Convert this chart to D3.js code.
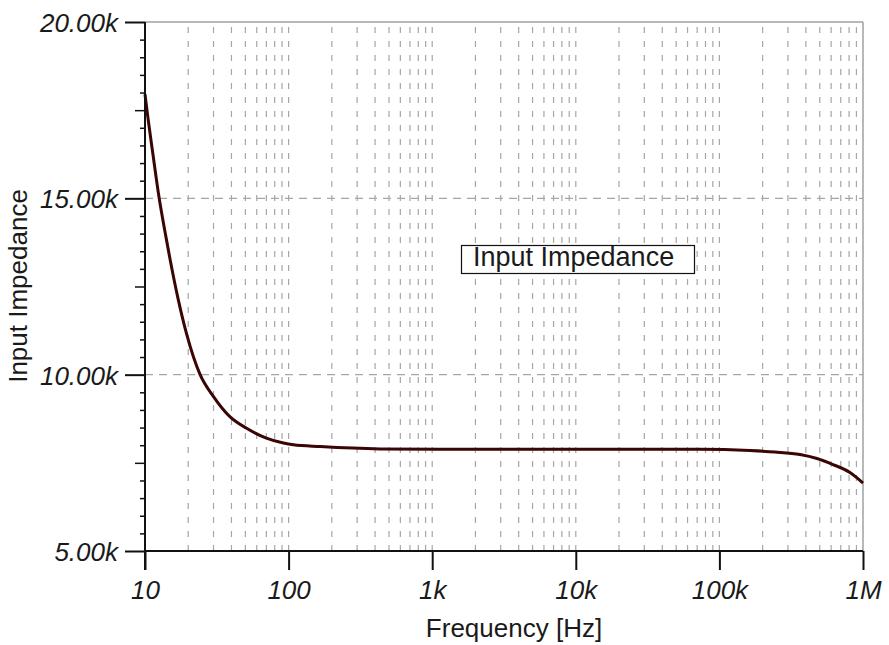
<!DOCTYPE html>
<html>
<head>
<meta charset="utf-8">
<script src="https://cdn.jsdelivr.net/npm/d3@7"></script>
<style>
  html, body { margin: 0; padding: 0; background: #ffffff; }
  svg { display: block; }
  text { font-family: "Liberation Sans", Arial, sans-serif; fill: #1a1a1a; }
</style>
</head>
<body>
<svg id="chart" width="889" height="645"></svg>
<script>
// Input impedance vs. frequency (AC sweep)
const frequencyHz = [10, 10.5, 11.4, 12.5, 14.0, 14.9, 17, 19.5, 24.2, 30, 39, 51, 70, 92, 108, 166, 433, 1130, 10000, 73000, 163000, 244000, 364000, 478000, 618000, 811000, 1000000];
const impedanceOhm = [17950, 17260, 16200, 15050, 13900, 13300, 12150, 11150, 10000, 9380, 8810, 8480, 8200, 8060, 8010, 7960, 7895, 7885, 7885, 7884, 7849, 7807, 7736, 7623, 7452, 7225, 6928];

const xTickValues = [10, 100, 1000, 10000, 100000, 1000000];
const xTickLabels = ["10", "100", "1k", "10k", "100k", "1M"];
const yTickValues = [5000, 10000, 15000, 20000];
const yTickLabels = ["5.00k", "10.00k", "15.00k", "20.00k"];
const seriesName = "Input Impedance";
const xTitle = "Frequency [Hz]";
const yTitle = "Input Impedance";

const svg = d3.select("#chart");
const plot = { left: 145, right: 863, top: 22, bottom: 551 };

const x = d3.scaleLog().domain([10, 1e6]).range([plot.left, plot.right]);
const y = d3.scaleLinear().domain([5000, 20000]).range([plot.bottom, plot.top]);

// vertical grid at every 2..10 step of each decade
const xGrid = [];
for (let d = 10; d < 1e6; d *= 10) {
  for (let k = 2; k <= 10; k++) xGrid.push(d * k);
}
const gridG = svg.append("g");
gridG.selectAll("line.vg")
  .data(xGrid.filter(v => v < 1e6))
  .join("line")
  .attr("x1", d => x(d)).attr("x2", d => x(d))
  .attr("y1", plot.bottom).attr("y2", plot.top)
  .attr("stroke", "#a6a6a6").attr("stroke-width", 1.2)
  .attr("stroke-dasharray", "6,8");

gridG.selectAll("line.hg")
  .data([10000, 15000])
  .join("line")
  .attr("x1", plot.left).attr("x2", plot.right)
  .attr("y1", d => y(d)).attr("y2", d => y(d))
  .attr("stroke", "#a6a6a6").attr("stroke-width", 1.2)
  .attr("stroke-dasharray", "8,6");

// frame: top and right edges
svg.append("line").attr("x1", plot.left).attr("x2", plot.right).attr("y1", plot.top).attr("y2", plot.top)
  .attr("stroke", "#a0a0a0").attr("stroke-width", 1.5);
svg.append("line").attr("x1", plot.right).attr("x2", plot.right).attr("y1", plot.top).attr("y2", plot.bottom)
  .attr("stroke", "#a0a0a0").attr("stroke-width", 1.5);

// curve
const line = d3.line()
  .x((d, i) => x(frequencyHz[i]))
  .y(d => y(d))
  .curve(d3.curveMonotoneX);
svg.append("path")
  .datum(impedanceOhm)
  .attr("d", line)
  .attr("fill", "none")
  .attr("stroke", "#3a0505")
  .attr("stroke-width", 3)
  .attr("stroke-linejoin", "round");

// y axis: minor, medium and major ticks
const minorY = d3.range(5000, 20001, 500).filter(v => v % 2500 !== 0);
const mediumY = [7500, 12500, 17500];
svg.append("g").attr("transform", `translate(${plot.left},0)`)
  .call(d3.axisLeft(y).tickValues(minorY).tickSize(5).tickFormat(""))
  .call(g => g.select(".domain").remove())
  .call(g => g.selectAll("line").attr("stroke", "#111").attr("stroke-width", 1.5));
svg.append("g").attr("transform", `translate(${plot.left},0)`)
  .call(d3.axisLeft(y).tickValues(mediumY).tickSize(10).tickFormat(""))
  .call(g => g.select(".domain").remove())
  .call(g => g.selectAll("line").attr("stroke", "#111").attr("stroke-width", 1.5));
const yAxis = svg.append("g").attr("transform", `translate(${plot.left},0)`)
  .call(d3.axisLeft(y).tickValues(yTickValues).tickSize(20).tickPadding(7)
    .tickFormat((d, i) => yTickLabels[i]))
  .call(g => g.select(".domain").remove());
yAxis.selectAll("line").attr("stroke", "#111").attr("stroke-width", 2);
yAxis.selectAll("text")
  .attr("font-size", 26).attr("font-style", "italic")
  .attr("font-family", "'Liberation Sans', Arial, sans-serif")
  .attr("fill", "#2a2a2a").attr("dy", "0.36em");

// x axis
const xAxis = svg.append("g").attr("transform", `translate(0,${plot.bottom})`)
  .call(d3.axisBottom(x).tickValues(xTickValues).tickSize(19).tickPadding(11)
    .tickFormat((d, i) => xTickLabels[i]))
  .call(g => g.select(".domain").remove());
xAxis.selectAll("line").attr("stroke", "#111").attr("stroke-width", 2);
xAxis.selectAll("text")
  .attr("font-size", 26).attr("font-style", "italic")
  .attr("font-family", "'Liberation Sans', Arial, sans-serif")
  .attr("fill", "#2a2a2a");

// axis lines
svg.append("line").attr("x1", plot.left).attr("x2", plot.left).attr("y1", plot.top).attr("y2", plot.bottom + 19)
  .attr("stroke", "#111").attr("stroke-width", 2);
svg.append("line").attr("x1", plot.left).attr("x2", plot.right).attr("y1", plot.bottom).attr("y2", plot.bottom)
  .attr("stroke", "#111").attr("stroke-width", 2);

// axis titles
svg.append("text")
  .attr("x", 514).attr("y", 637)
  .attr("text-anchor", "middle")
  .attr("font-size", 26)
  .text(xTitle);
svg.append("text")
  .attr("transform", "translate(27,286) rotate(-90)")
  .attr("text-anchor", "middle")
  .attr("font-size", 26)
  .text(yTitle);

// series label box
const lg = svg.append("g");
lg.append("rect")
  .attr("x", 461.5).attr("y", 245.5).attr("width", 233).attr("height", 28)
  .attr("fill", "#fff").attr("stroke", "#111").attr("stroke-width", 1.2);
lg.append("text")
  .attr("x", 473).attr("y", 266)
  .attr("font-size", 27)
  .text(seriesName);
</script>
</body>
</html>
